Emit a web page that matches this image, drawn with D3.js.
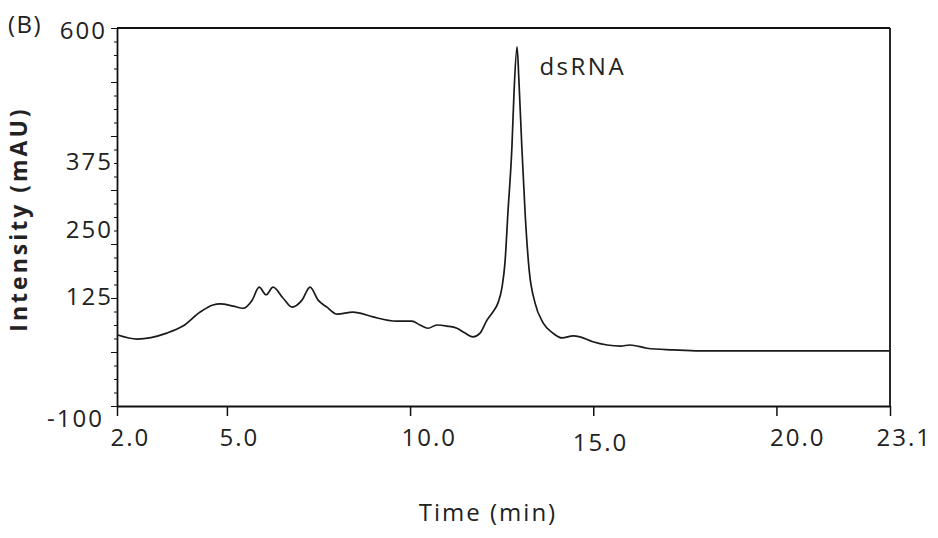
<!DOCTYPE html>
<html>
<head>
<meta charset="utf-8">
<script src="https://cdn.jsdelivr.net/npm/d3@7"></script>
<style>
  body { margin: 0; background: #fff; }
  svg text { font-family: "Open Sans", sans-serif; fill: #222; }
</style>
</head>
<body>
<svg id="chart" width="938" height="538"></svg>
<script>
// chromatogram trace (time in min, intensity in mAU)
const timeValues = [2.00, 2.55, 3.36, 3.80, 4.27, 4.62, 4.81, 5.17, 5.44, 5.69, 5.88, 6.07, 6.26, 6.53, 6.78,
  7.05, 7.27, 7.49, 7.73, 8.01, 8.44, 8.63, 8.99, 9.64, 10.05, 10.27, 10.49, 10.73, 11.01, 11.28, 11.50,
  11.72, 11.91, 12.10, 12.26, 12.40, 12.51, 12.59, 12.67, 12.78, 12.84, 12.92, 12.97, 13.05, 13.14, 13.25,
  13.41, 13.63, 13.90, 14.15, 14.45, 14.64, 14.99, 15.38, 15.75, 16.00, 16.47, 17.18, 17.91, 23.10];
const intensityValues = [32, 24, 35, 48, 74, 87, 89, 85, 81, 96, 120, 106, 120, 100, 83,
  96, 120, 96, 83, 70, 74, 72, 65, 57, 57, 50, 44, 50, 48, 44, 35,
  28, 35, 59, 74, 91, 120, 165, 257, 380, 485, 565, 504, 380, 257, 152,
  91, 54, 35, 26, 30, 28, 19, 13, 11, 13, 7, 4, 2, 2];

const xTickLabels = [2.0, 5.0, 10.0, 15.0, 20.0, 23.1];
const yTickLabels = [600, 375, 250, 125, -100];
const yMajorTicks = d3.range(-100, 601, 100);
const yMinorTicks = d3.range(-100, 601, 25);
const peakLabel = 'dsRNA';

const svg = d3.select('#chart');
const plotLeft = 117, plotRight = 890, plotTop = 28, plotBottom = 406;

const x = d3.scaleLinear().domain([2.0, 23.1]).range([plotLeft, plotRight]);
const y = d3.scaleLinear().domain([-100, 600]).range([plotBottom, plotTop]);

// frame: top + right borders
svg.append('line')
  .attr('x1', x(2.0)).attr('x2', x(23.1)).attr('y1', y(600)).attr('y2', y(600))
  .attr('stroke', '#111').attr('stroke-width', 1.8);
svg.append('line')
  .attr('x1', x(23.1)).attr('x2', x(23.1)).attr('y1', y(600)).attr('y2', y(-100))
  .attr('stroke', '#111').attr('stroke-width', 1.8);

// x axis (labels sit a bit off-centre, like the instrument export)
const xLabelShift = d => ({2: -7, 5: -8, 10: -9, 15: -21, 20: -7, 23.1: -14})[d] || 0;

const gx = svg.append('g')
  .attr('transform', `translate(0,${plotBottom})`)
  .call(d3.axisBottom(x).tickValues(xTickLabels).tickSize(10).tickSizeOuter(0)
    .tickFormat(d3.format('.1f')));
gx.select('.domain').attr('stroke', '#111').attr('stroke-width', 1.8);
gx.selectAll('.tick line').attr('stroke', '#111').attr('stroke-width', 1.5);
gx.selectAll('.tick text')
  .attr('text-anchor', 'start')
  .attr('x', xLabelShift)
  .attr('y', d => d === 15 ? 45 : 40)
  .attr('dy', 0)
  .attr('font-size', 24)
  .style('letter-spacing', '2px');

// y axis: minor ticks, major ticks, then labels
const gyMinor = svg.append('g')
  .attr('transform', `translate(${plotLeft},0)`)
  .call(d3.axisLeft(y).tickValues(yMinorTicks).tickSize(3).tickSizeOuter(0).tickFormat(''));
gyMinor.select('.domain').attr('stroke', '#111').attr('stroke-width', 1.8);
gyMinor.selectAll('.tick line').attr('stroke', '#111');

const gyMajor = svg.append('g')
  .attr('transform', `translate(${plotLeft},0)`)
  .call(d3.axisLeft(y).tickValues(yMajorTicks).tickSize(6).tickSizeOuter(0).tickFormat(''));
gyMajor.select('.domain').remove();
gyMajor.selectAll('.tick line').attr('stroke', '#111');

const gyLab = svg.append('g')
  .attr('transform', `translate(${plotLeft},0)`)
  .call(d3.axisLeft(y).tickValues(yTickLabels).tickSize(0).tickPadding(4)
    .tickFormat(d => String(d)));
gyLab.select('.domain').remove();
gyLab.selectAll('.tick text')
  .attr('dx', d => d === 600 ? -6 : d === -100 ? -9 : 0)
  .attr('dy', d => d === 600 ? 10 : 20)
  .attr('font-size', 24)
  .style('letter-spacing', '2px');

// trace
const line = d3.line()
  .x((d, i) => x(timeValues[i]))
  .y(d => y(d))
  .curve(d3.curveMonotoneX);

svg.append('path')
  .datum(intensityValues)
  .attr('fill', 'none')
  .attr('stroke', '#1a1a1a')
  .attr('stroke-width', 1.7)
  .attr('d', line);

// peak annotation
svg.append('text')
  .attr('x', x(13.53)).attr('y', y(513))
  .attr('font-size', 24)
  .style('letter-spacing', '2.5px')
  .text(peakLabel);

// panel letter
svg.append('text')
  .attr('x', 8).attr('y', 33)
  .attr('font-size', 24)
  .style('letter-spacing', '1.5px')
  .text('(B)');

// axis titles
svg.append('text')
  .attr('x', 488).attr('y', 521)
  .attr('text-anchor', 'middle')
  .attr('font-size', 24)
  .style('letter-spacing', '2px')
  .text('Time (min)');

svg.append('text')
  .attr('transform', 'translate(27,219) rotate(-90)')
  .attr('text-anchor', 'middle')
  .attr('font-size', 23)
  .attr('font-weight', 'bold')
  .style('letter-spacing', '3px')
  .text('Intensity (mAU)');
</script>
</body>
</html>
